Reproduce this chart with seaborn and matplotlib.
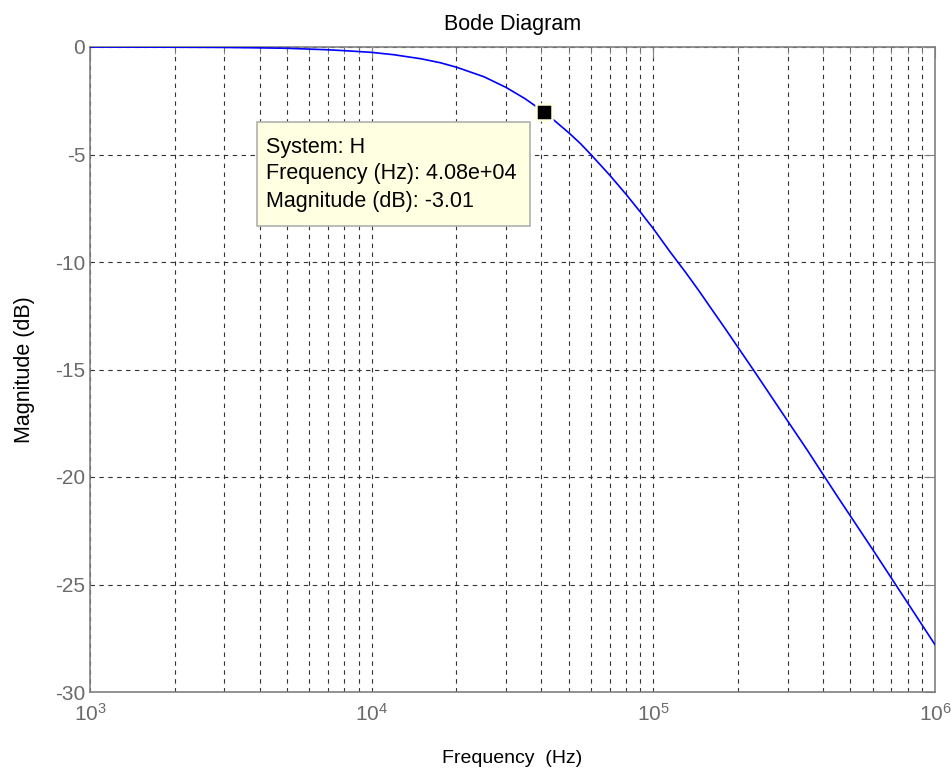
import numpy as np
import pandas as pd
import matplotlib
matplotlib.use("Agg")
import matplotlib.pyplot as plt
import matplotlib.ticker as mticker
from matplotlib.patches import Rectangle
import seaborn as sns

# Data
freq_hz = [1e3, 2e3, 3e3, 4e3, 5e3, 7e3, 8e3, 1e4, 1.2e4, 1.5e4, 1.75e4, 2e4, 2.5e4,
           3e4, 3.5e4, 4.08e4, 4.5e4, 5e4, 5.5e4, 6e4, 7e4, 8e4, 9e4, 1e5, 1.15e5,
           1.3e5, 1.45e5, 1.6e5, 1.8e5, 2e5, 2.25e5, 2.5e5, 3e5, 3.5e5, 4e5, 4.5e5,
           5e5, 6e5, 7e5, 8e5, 1e6]
magnitude_db = [0.0, -0.01, -0.02, -0.04, -0.06, -0.13, -0.17, -0.25, -0.36, -0.55,
                -0.73, -0.94, -1.38, -1.88, -2.40, -3.01, -3.47, -3.98, -4.48, -5.00,
                -5.96, -6.85, -7.68, -8.45, -9.55, -10.47, -11.33, -12.14, -13.1,
                -13.98, -14.96, -15.85, -17.4, -18.7, -19.87, -20.9, -21.8, -23.36,
                -24.7, -25.86, -27.8]
tip_freq = [4.08e4]
tip_mag = [-3.01]
y_ticks = [0, -5, -10, -15, -20, -25, -30]
tip_lines = ["System: H", "Frequency (Hz): 4.08e+04", "Magnitude (dB): -3.01"]

sns.set_style("white")
plt.rcParams['font.family'] = ['Liberation Sans', 'DejaVu Sans']
plt.rcParams['mathtext.fontset'] = 'custom'
plt.rcParams['mathtext.rm'] = 'Liberation Sans'
plt.rcParams['axes.unicode_minus'] = False

fig = plt.figure(figsize=(9.53, 7.73), dpi=100)
ax = fig.add_axes([90/953, 1-692/773, (935-90)/953, (692-47)/773])

df = pd.DataFrame({"f": freq_hz, "m": magnitude_db})
sns.lineplot(data=df, x="f", y="m", ax=ax, color="#0000FF", linewidth=1.2, zorder=3)
ax.set_xscale("log")
ax.set_xlim(1e3, 1e6)
ax.set_ylim(-30, 0)
ax.set_yticks(y_ticks)

ax.xaxis.set_major_locator(mticker.LogLocator(base=10))
ax.xaxis.set_minor_locator(mticker.LogLocator(base=10, subs=np.arange(2, 10)))
ax.xaxis.set_minor_formatter(mticker.NullFormatter())

gridkw = dict(color="#333333", linestyle=(0, (4, 4)), linewidth=0.8)
ax.grid(True, which="major", axis="both", **gridkw)
ax.grid(True, which="minor", axis="x", **gridkw)
ax.set_axisbelow(True)

for s in ax.spines.values():
    s.set_color("#808080")
    s.set_linewidth(1.2)
    s.set_visible(True)

ax.tick_params(axis="both", which="both", direction="in", colors="#808080",
               labelcolor="#6a6a6a", labelsize=15, top=True, right=True)
ax.tick_params(axis="both", which="major", length=8)
ax.tick_params(axis="x", which="minor", length=5)
ax.tick_params(axis="x", which="major", pad=8)

ax.set_xlabel("Frequency  (Hz)", fontsize=14, color="black", labelpad=18)
ax.set_ylabel("Magnitude (dB)", fontsize=15.5, color="black", labelpad=14)
ax.set_title("Bode Diagram", fontsize=15.5, color="black", pad=12)

# Datatip marker
ax.plot(tip_freq, tip_mag, marker="s", markersize=11, color="black",
        markeredgecolor="#FFFFE1", markeredgewidth=1.8, linestyle="none", zorder=5)

# Datatip box
rect = Rectangle((257/953, 1-226/773), (530-257)/953, (226-122)/773,
                 transform=fig.transFigure, facecolor="#FFFFE1",
                 edgecolor="#B0B0B0", linewidth=1.2, zorder=6)
fig.patches.append(rect)
for i, t in enumerate(tip_lines):
    fig.text(266/953, 1-(147+27*i)/773, t, fontsize=15.5, color="black",
             ha="left", va="center", zorder=7)

fig.savefig("out.png", dpi=100, facecolor="white")
